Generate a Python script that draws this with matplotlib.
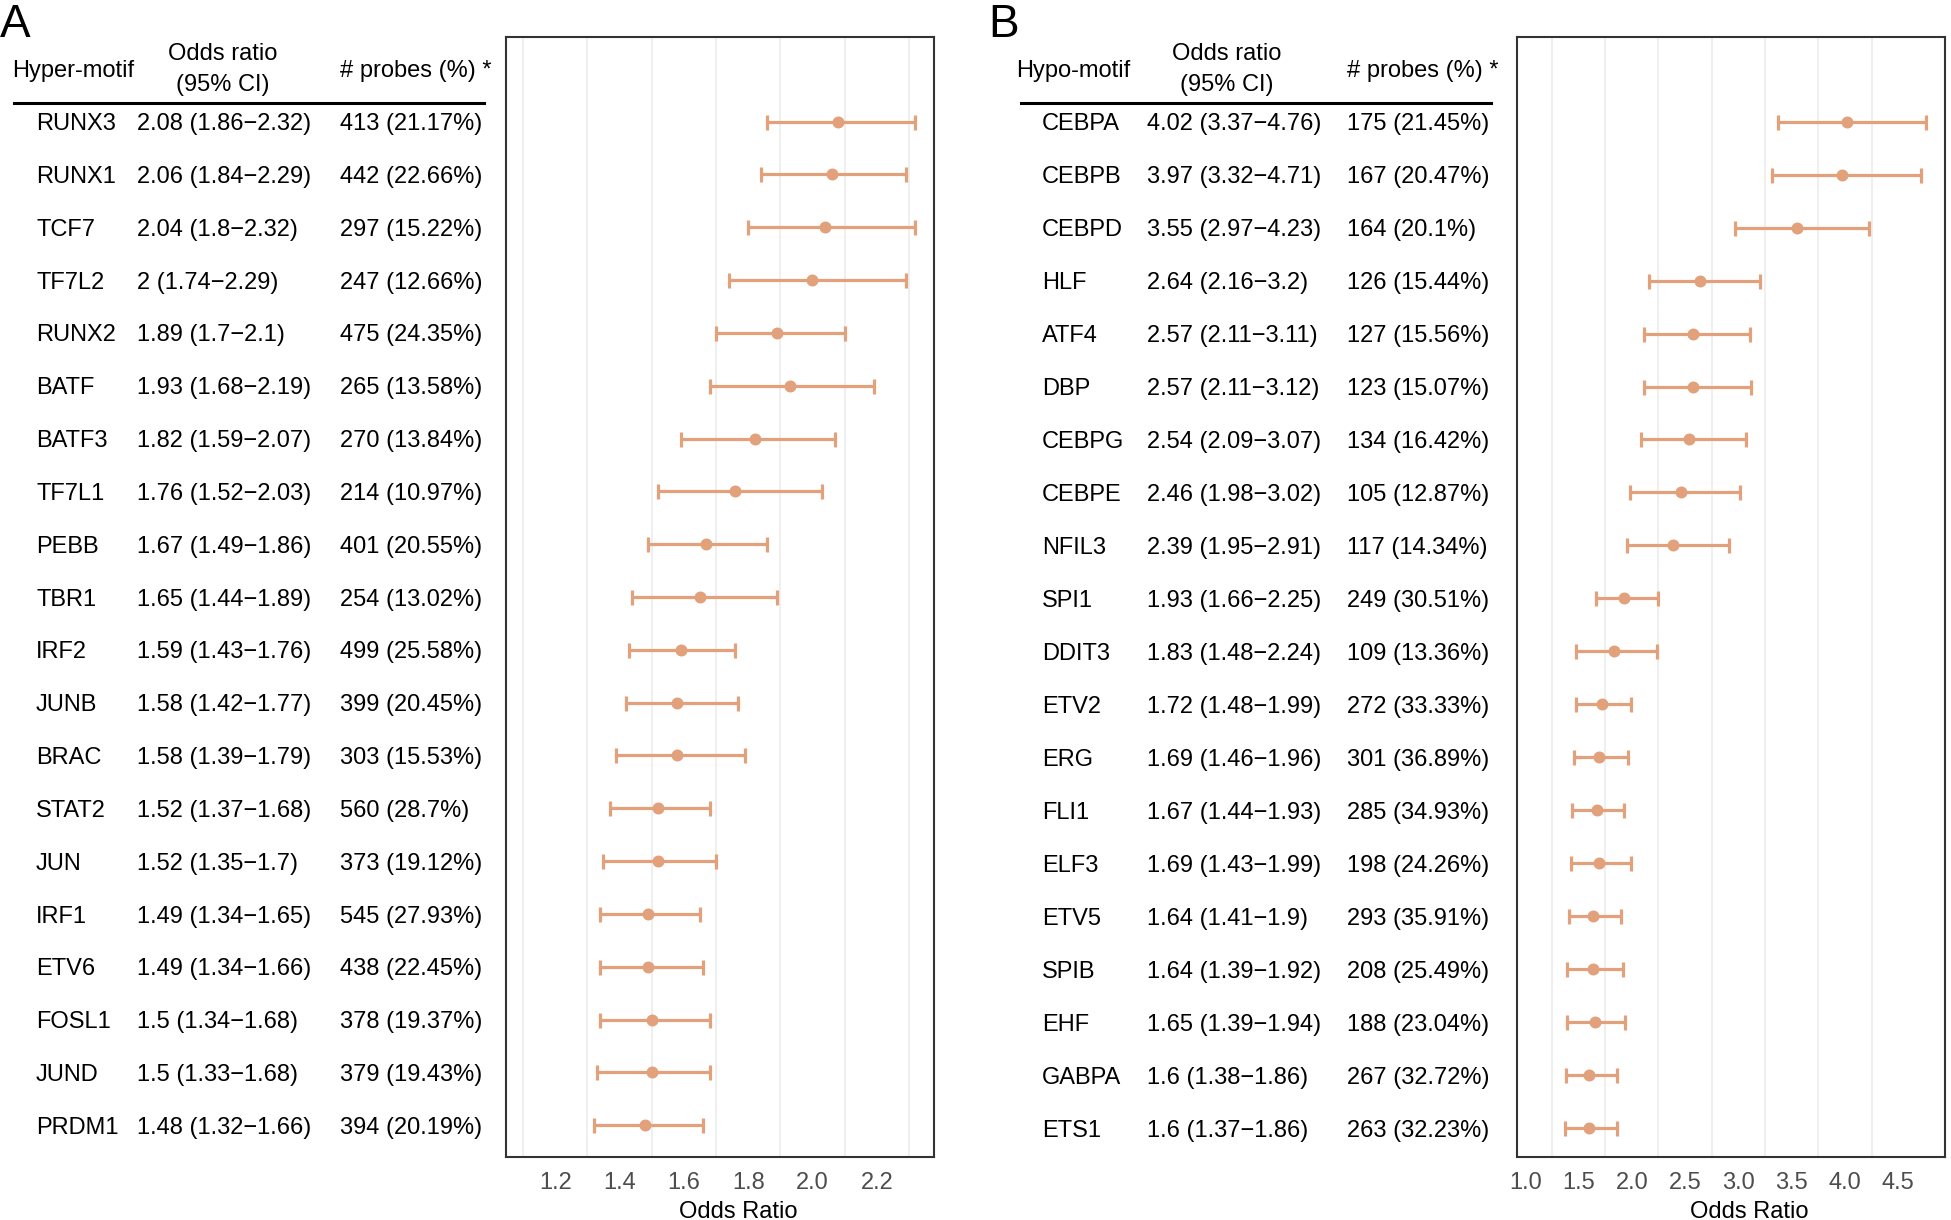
"""
Forest plots of motif enrichment (hyper / hypo) with side tables
"""

import numpy as np
import matplotlib.pyplot as plt
from matplotlib.transforms import blended_transform_factory

plt.rcParams['font.family'] = ['Liberation Sans', 'DejaVu Sans']

# ---------------------------------------------------------------------------- #
# Data
# ---------------------------------------------------------------------------- #

hyper_motifs = ['RUNX3', 'RUNX1', 'TCF7', 'TF7L2', 'RUNX2', 'BATF', 'BATF3',
                'TF7L1', 'PEBB', 'TBR1', 'IRF2', 'JUNB', 'BRAC', 'STAT2',
                'JUN', 'IRF1', 'ETV6', 'FOSL1', 'JUND', 'PRDM1']
hyper_or = [2.08, 2.06, 2.04, 2, 1.89, 1.93, 1.82, 1.76, 1.67, 1.65,
            1.59, 1.58, 1.58, 1.52, 1.52, 1.49, 1.49, 1.5, 1.5, 1.48]
hyper_lo = [1.86, 1.84, 1.8, 1.74, 1.7, 1.68, 1.59, 1.52, 1.49, 1.44,
            1.43, 1.42, 1.39, 1.37, 1.35, 1.34, 1.34, 1.34, 1.33, 1.32]
hyper_hi = [2.32, 2.29, 2.32, 2.29, 2.1, 2.19, 2.07, 2.03, 1.86, 1.89,
            1.76, 1.77, 1.79, 1.68, 1.7, 1.65, 1.66, 1.68, 1.68, 1.66]
hyper_n = [413, 442, 297, 247, 475, 265, 270, 214, 401, 254,
           499, 399, 303, 560, 373, 545, 438, 378, 379, 394]
hyper_pct = [21.17, 22.66, 15.22, 12.66, 24.35, 13.58, 13.84, 10.97, 20.55, 13.02,
             25.58, 20.45, 15.53, 28.7, 19.12, 27.93, 22.45, 19.37, 19.43, 20.19]

hypo_motifs = ['CEBPA', 'CEBPB', 'CEBPD', 'HLF', 'ATF4', 'DBP', 'CEBPG',
               'CEBPE', 'NFIL3', 'SPI1', 'DDIT3', 'ETV2', 'ERG', 'FLI1',
               'ELF3', 'ETV5', 'SPIB', 'EHF', 'GABPA', 'ETS1']
hypo_or = [4.02, 3.97, 3.55, 2.64, 2.57, 2.57, 2.54, 2.46, 2.39, 1.93,
           1.83, 1.72, 1.69, 1.67, 1.69, 1.64, 1.64, 1.65, 1.6, 1.6]
hypo_lo = [3.37, 3.32, 2.97, 2.16, 2.11, 2.11, 2.09, 1.98, 1.95, 1.66,
           1.48, 1.48, 1.46, 1.44, 1.43, 1.41, 1.39, 1.39, 1.38, 1.37]
hypo_hi = [4.76, 4.71, 4.23, 3.2, 3.11, 3.12, 3.07, 3.02, 2.91, 2.25,
           2.24, 1.99, 1.96, 1.93, 1.99, 1.9, 1.92, 1.94, 1.86, 1.86]
hypo_n = [175, 167, 164, 126, 127, 123, 134, 105, 117, 249,
          109, 272, 301, 285, 198, 293, 208, 188, 267, 263]
hypo_pct = [21.45, 20.47, 20.1, 15.44, 15.56, 15.07, 16.42, 12.87, 14.34, 30.51,
            13.36, 33.33, 36.89, 34.93, 24.26, 35.91, 25.49, 23.04, 32.72, 32.23]

hyper_ticks = [1.2, 1.4, 1.6, 1.8, 2.0, 2.2]
hyper_grid = [1.1, 1.3, 1.5, 1.7, 1.9, 2.1, 2.3]
hypo_ticks = [1.0, 1.5, 2.0, 2.5, 3.0, 3.5, 4.0, 4.5]
hypo_grid = [1.25, 1.75, 2.25, 2.75, 3.25, 3.75, 4.25]

# ---------------------------------------------------------------------------- #
# Styling
# ---------------------------------------------------------------------------- #

W, H = 1951, 1220
colour = '#E2A07B'
fs = 17
dy = -0.05   # nudge table text down to sit on the error bar rows

fig = plt.figure(figsize=(W / 100, H / 100), dpi=100)


def fx(px):
    return px / W


def panel(letter, letter_x, header, motifs, odds, lo, hi, n, pct,
          ax_left, xlim, ylim, ticks, grid, cols, header_x, odds_centre, line_x):
    ax = fig.add_axes([fx(ax_left), 1 - 1157 / H, 428 / W, 1120 / H])
    odds = np.array(odds)
    lo = np.array(lo)
    hi = np.array(hi)
    y = np.arange(len(motifs), 0, -1)

    for g in grid:
        ax.axvline(g, color='#EBEBEB', lw=1.1, zorder=0)
    ax.errorbar(odds, y, xerr=[odds - lo, hi - odds], fmt='o', color=colour,
                ecolor=colour, elinewidth=2.3, capthick=2.3, capsize=5.4,
                markersize=7.6, zorder=3)
    ax.set_xlim(xlim)
    ax.set_ylim(ylim)
    ax.set_xticks(ticks)
    ax.set_xticklabels([f'{t:.1f}' for t in ticks])
    ax.set_yticks([])
    ax.tick_params(axis='x', length=0, pad=11, labelsize=17, labelcolor='#4D4D4D')
    for s in ax.spines.values():
        s.set_color('#333333')
        s.set_linewidth(1.5)
    ax.set_xlabel('Odds Ratio', fontsize=fs, labelpad=5)
    ax.xaxis.label.set_x(0.542)

    # table on the left, rows tied to the axes' y scale
    tr = blended_transform_factory(fig.transFigure, ax.transData)
    for i in range(len(motifs)):
        fig.text(fx(cols[0]), y[i] + dy, motifs[i], transform=tr, fontsize=fs,
                 ha='left', va='center')
        fig.text(fx(cols[1]), y[i] + dy, f'{odds[i]:g} ({lo[i]:g}\u2212{hi[i]:g})',
                 transform=tr, fontsize=fs, ha='left', va='center')
        fig.text(fx(cols[2]), y[i] + dy, f'{n[i]} ({pct[i]:g}%)', transform=tr,
                 fontsize=fs, ha='left', va='center')

    fig.text(fx(header_x), 21.0 + dy, header, transform=tr, fontsize=fs,
             ha='left', va='center')
    fig.text(fx(odds_centre), 21.33 + dy, 'Odds ratio', transform=tr, fontsize=fs,
             ha='center', va='center')
    fig.text(fx(odds_centre), 20.74 + dy, '(95% CI)', transform=tr, fontsize=fs,
             ha='center', va='center')
    fig.text(fx(cols[2]), 21.0 + dy, '# probes (%) *', transform=tr, fontsize=fs,
             ha='left', va='center')
    fig.add_artist(plt.Line2D([fx(line_x[0]), fx(line_x[1])], [20.35, 20.35],
                              transform=tr, color='black', lw=2.2))

    fig.text(fx(letter_x), 1 - 37 / H, letter, fontsize=33, ha='left',
             va='baseline')
    return ax


panel('A', 0, 'Hyper-motif', hyper_motifs, hyper_or, hyper_lo, hyper_hi,
      hyper_n, hyper_pct, 506, (1.047, 2.378), (0.4, 21.6), hyper_ticks,
      hyper_grid, [36, 137, 340], 12, 223, [14, 484])

panel('B', 988, 'Hypo-motif', hypo_motifs, hypo_or, hypo_lo, hypo_hi,
      hypo_n, hypo_pct, 1517, (0.922, 4.94), (0.45, 21.6), hypo_ticks,
      hypo_grid, [1042, 1147, 1347], 1016, 1227, [1021, 1491])

fig.savefig('out.png', dpi=100)
plt.close()
